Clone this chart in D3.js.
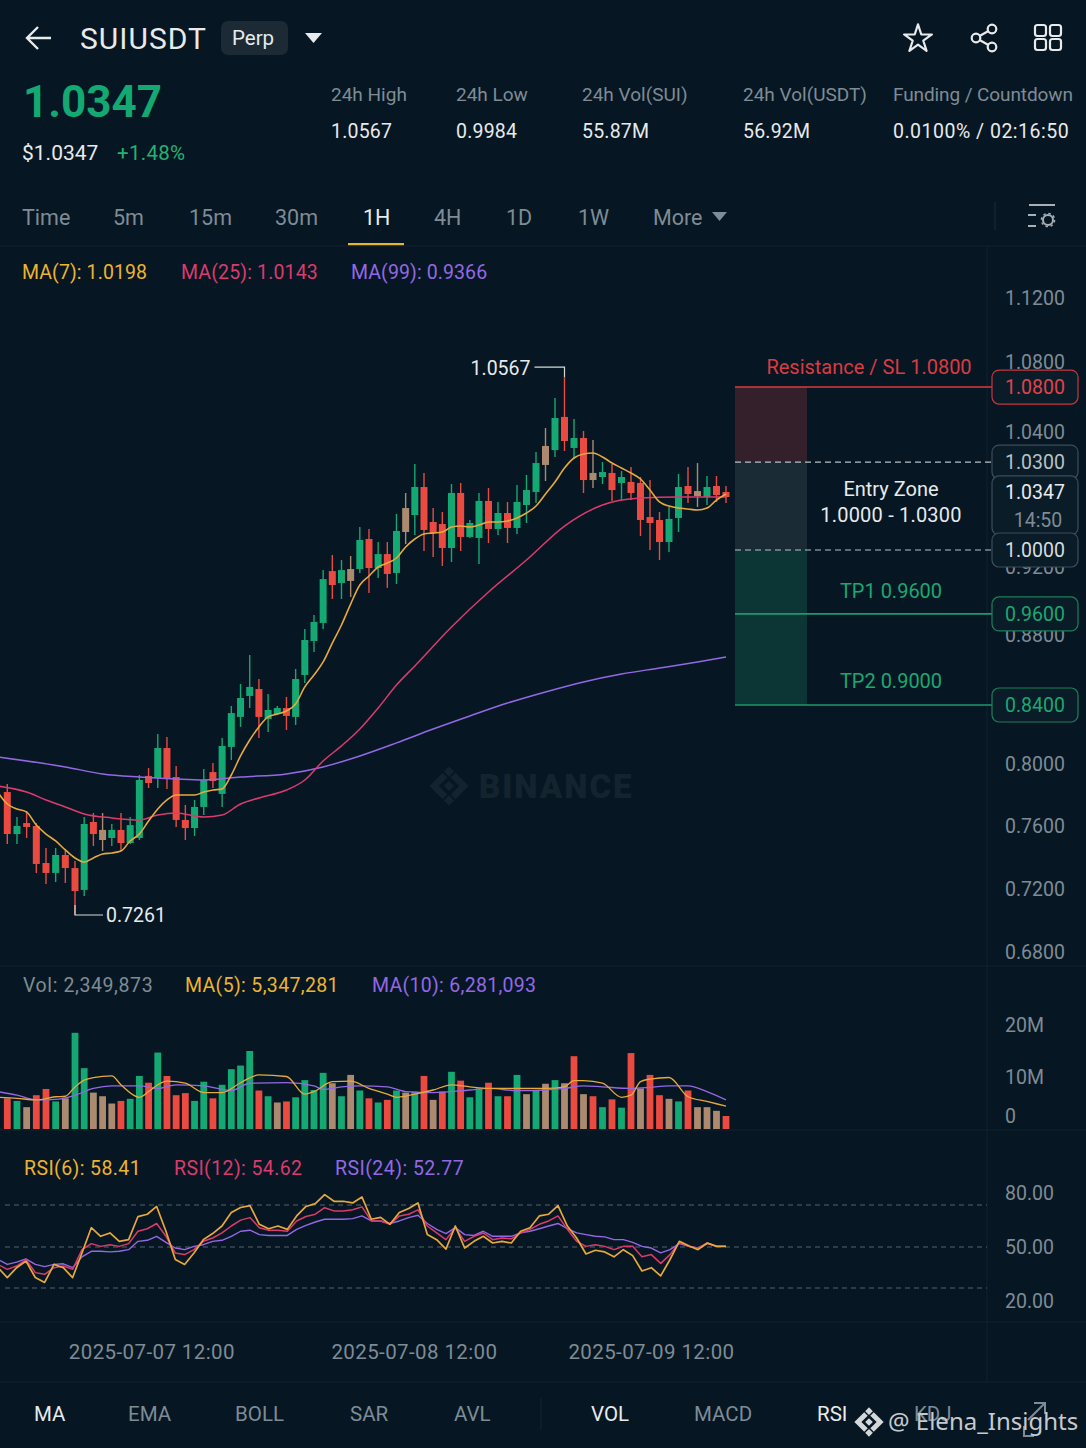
<!DOCTYPE html>
<html>
<head>
<meta charset="utf-8">
<title>SUIUSDT Perp</title>
<script src="https://cdn.jsdelivr.net/npm/d3@7/dist/d3.min.js"></script>
<style>
  html, body { margin: 0; padding: 0; background: #061723; }
  svg { display: block; font-family: Roboto, sans-serif; }
</style>
</head>
<body>
<div id="chart"></div>
<script>
// candles, one per hour bar
const opens = [
  .7819,.7549,.7619,.7600,.7365,.7302,.7416,.7333,.7194,.7626,
  .7575,.7524,.7575,.7492,.7524,.7923,.7910,.8099,.7916,.7639,
  .7587,.7723,.7948,.7807,.8106,.8292,.8422,.8465,.8279,.8310,
  .8347,.8292,.8552,.8763,.8871,.9176,.9106,.9188,.9188,.9449,
  .9194,.9315,.9165,.9724,.9662,.9911,.9600,.9582,.9369,.9858,
  .9467,.9458,.9787,.9538,.9680,.9547,.9751,.9867,1.0276,1.0240,
  1.0486,1.0258,1.0347,1.0036,1.0000,1.0036,.9947,.9956,.9947,.9644,
  .9618,.9422,.9636,.9920,.9875,.9822,.9920,.9867];
const highs = [
  .7871,.7658,.7697,.7619,.7460,.7460,.7448,.7378,.7658,.7684,
  .7684,.7613,.7684,.7658,.7929,.7974,.8186,.8168,.7987,.7736,
  .7768,.7968,.8006,.8161,.8360,.8496,.8676,.8527,.8434,.8360,
  .8416,.8589,.8835,.8918,.9182,.9307,.9262,.9298,.9555,.9538,
  .9422,.9422,.9671,.9858,1.0116,1.0036,.9724,.9689,.9938,.9947,
  .9618,.9858,.9902,.9778,.9778,.9929,1.0018,1.0222,1.0423,1.0594,
  1.0714,1.0475,1.0406,1.0329,1.0133,1.0116,1.0053,1.0089,1.0000,.9973,
  .9689,.9733,1.0027,1.0089,1.0124,1.0009,1.0009,.9920];
const lows = [
  .7486,.7486,.7524,.7302,.7232,.7244,.7238,.7035,.7156,.7473,
  .7441,.7473,.7441,.7486,.7511,.7845,.7845,.7839,.7594,.7511,
  .7537,.7671,.7845,.7723,.8025,.8230,.8347,.8161,.8199,.8304,
  .8211,.8242,.8502,.8695,.8835,.9012,.9012,.9024,.9165,.9047,
  .9135,.9077,.9100,.9404,.9484,.9342,.9289,.9209,.9244,.9342,
  .9458,.9227,.9413,.9484,.9413,.9493,.9591,.9769,.9964,1.0178,
  1.0231,1.0160,.9858,.9902,.9938,.9787,.9795,.9795,.9475,.9351,
  .9262,.9333,.9511,.9769,.9733,.9751,.9778,.9769];
const closes = [
  .7549,.7600,.7594,.7359,.7302,.7416,.7333,.7187,.7613,.7549,
  .7511,.7575,.7492,.7606,.7897,.7877,.8099,.7910,.7639,.7587,
  .7723,.7897,.7890,.8112,.8316,.8409,.8478,.8292,.8335,.8347,
  .8298,.8527,.8769,.8877,.9129,.9094,.9182,.9118,.9440,.9194,
  .9315,.9159,.9520,.9511,.9911,.9529,.9502,.9369,.9858,.9467,
  .9591,.9787,.9538,.9680,.9547,.9778,.9884,1.0124,1.0107,1.0480,
  1.0320,1.0347,.9973,.9973,1.0044,.9884,1.0000,.9858,.9618,.9591,
  .9422,.9627,.9911,.9849,.9831,.9911,.9840,.9822];
// candles that show a washed out tan body
const mixedCandles = [10, 37, 43, 58, 63, 74];

// MA(7) has one reading per candle and starts one bar left of the first candle
const ma7 = [
  .7819,.7742,.7710,.7690,.7606,.7549,.7505,.7448,.7397,.7371,.7397,
  .7422,.7429,.7441,.7505,.7549,.7632,.7710,.7768,.7800,.7800,
  .7800,.7819,.7832,.7839,.7929,.8050,.8149,.8230,.8292,.8310,
  .8329,.8372,.8478,.8552,.8633,.8750,.8859,.8982,.9094,.9147,
  .9200,.9235,.9280,.9378,.9449,.9493,.9502,.9511,.9555,.9564,
  .9555,.9573,.9600,.9600,.9609,.9636,.9680,.9742,.9849,.9956,
  1.0080,1.0169,1.0204,1.0213,1.0178,1.0124,1.0080,1.0036,.9982,.9884,
  .9778,.9742,.9724,.9715,.9707,.9724,.9795,.9849];
const ma25Bars = [-1,2,4,6,8,11,14,16,18,21,23,25,27,30,32,34,36,38,40,42,44,48,52,56,60,64,68,72,77];
const ma25 = [.7858,.7819,.7768,.7723,.7678,.7652,.7639,.7671,.7684,.7658,.7671,.7742,.7781,.7832,.7897,
  .8019,.8112,.8217,.8347,.8490,.8608,.8847,.9053,.9262,.9564,.9751,.9813,.9822,.9822];
const ma99Bars = [-1,6,10,14,18,21,25,30,34,38,42,46,50,54,58,62,66,70,74,77];
const ma99 = [.8044,.7981,.7936,.7916,.7903,.7897,.7916,.7936,.7981,.8050,.8131,.8217,.8298,.8378,.8447,.8509,.8558,.8595,.8633,.8664];

// axis labels of the price pane, the picture does not space them evenly
const priceTicks = [1.12, 1.08, 1.04, 0.92, 0.88, 0.80, 0.76, 0.72, 0.68];
const priceRows = [298, 362, 432, 567, 635, 764, 826, 889, 952];

// the level boxes do not line up with the axis, so levelAt is where each one sits on it
const levelLabels = ["1.0800", "1.0300", "1.0000", "0.9600", "0.8400"];
const levelAt = [1.0657, 1.0133, .9351, .8924, .8366];
const lastAt = .9867;

// volume in millions
const volumes = [
  5.9,5.4,4.2,6.5,7.7,5.3,5.9,18.5,11.7,7.0,
  6.3,4.9,5.4,5.8,10.2,8.9,14.7,10.2,6.5,6.9,
  5.4,9.1,5.9,8.5,11.5,12.2,15.0,7.4,6.3,5.1,
  5.3,6.1,9.4,7.5,10.8,8.8,6.3,10.4,7.4,5.9,
  5.1,5.6,7.4,7.0,7.2,10.2,5.6,7.2,11.0,9.3,
  6.1,7.8,8.9,6.3,6.3,10.4,6.7,7.5,8.7,9.4,
  8.8,14.0,6.7,6.3,4.2,5.7,4.1,14.6,7.8,10.4,
  6.5,5.8,5.3,7.4,4.2,4.2,3.5,2.5];
// u = buy bar, d = sell bar, m = the tan washed out ones
const volumeSide = [
  "dumddumuum", "mmduududdd", "uuduuuudum", "duuuumumud",
  "udumudmdud", "uududumumu", "mdmdududmd", "dmudmmmd"].join("");
const volMa5Bars = [-1,1,3,5,6,7,8,9,11,12,14,15,16,17,19,21,23,25,27,30,32,33,35,37,39,41,42,44,46,48,50,52,55,58,60,61,62,64,66,67,68,69,71,73,75,77];
const volMa5 = [6.1,5.9,5.6,6.2,6.3,8.1,9.4,9.9,10.2,8.5,6.1,7.2,8.5,9.2,8.8,7.0,7.0,8.9,10.4,10.1,6.7,7.2,9.1,9.2,7.8,6.7,6.1,6.7,7.5,8.5,8.1,7.8,7.8,7.8,8.1,9.3,9.3,8.8,6.1,6.5,9.1,9.6,9.9,6.2,5.3,4.4];
const volMa10Bars = [-1,1,3,5,7,9,11,14,16,18,21,24,26,30,33,34,36,38,41,43,46,50,52,55,58,60,62,64,67,69,71,73,75,77];
const volMa10 = [7.2,6.5,5.6,5.7,6.5,7.8,8.3,8.3,7.8,8.5,8.3,7.4,8.8,8.9,8.3,7.6,8.1,8.3,8.1,7.2,7.0,7.5,7.8,7.4,7.5,7.8,8.3,8.1,7.8,8.0,8.3,8.3,7.2,5.6];
const volumeTicks = [0, 10, 20];

// RSI, one reading per candle, starting one bar left like MA(7)
const rsi6 = [
  39.9,35.1,39.9,43.1,35.1,32.7,41.5,39.9,35.1,47.1,59.2,
  55.1,56.7,52.7,53.5,64.5,65.6,69.3,57.5,43.9,41.5,
  47.1,53.5,56.4,60.0,66.4,68.8,69.7,60.8,58.7,60.0,
  58.4,64.8,69.3,71.1,78.6,73.1,73.1,71.7,76.7,63.2,
  64.1,60.8,66.4,68.3,71.7,55.9,53.5,49.0,60.0,49.5,
  52.7,55.1,51.9,52.7,51.9,57.5,59.2,64.8,65.6,69.7,
  60.0,54.3,46.6,48.4,47.6,45.2,48.7,45.8,38.3,39.9,
  35.9,43.9,52.7,50.6,48.7,51.9,50.3,50.3];
const rsi12 = [
  41.5,39.1,40.7,43.9,37.5,36.7,39.9,40.7,39.1,48.7,51.6,
  50.3,51.1,50.3,51.6,57.5,58.7,61.2,55.1,47.1,46.3,
  48.7,52.7,54.3,56.7,60.0,62.8,64.0,59.2,58.0,58.0,
  57.5,62.4,64.5,65.6,68.7,67.2,67.2,67.7,69.1,62.4,
  62.4,60.8,64.8,65.6,67.7,60.0,56.7,53.5,59.2,52.7,
  55.1,56.7,53.5,54.3,53.9,56.7,58.4,60.8,62.4,64.8,
  58.4,52.7,50.3,51.1,50.3,48.7,50.3,50.3,45.2,46.3,
  42.0,46.3,52.2,50.3,49.5,51.9,50.3,50.3];
const rsi24 = [
  43.9,41.5,42.6,44.2,41.5,40.4,41.5,41.8,39.9,45.2,47.9,
  47.9,47.6,47.9,48.7,52.7,53.2,55.1,52.2,49.5,48.7,
  50.3,51.1,52.7,53.2,55.1,57.5,58.0,55.9,55.5,55.5,
  55.5,58.4,60.3,61.9,63.2,63.2,63.2,63.5,64.8,62.4,
  62.4,61.2,62.4,64.0,65.1,61.2,58.4,56.4,59.2,55.9,
  55.5,57.5,55.1,55.1,55.1,56.7,57.5,58.7,60.0,61.2,
  58.7,56.7,55.9,55.1,54.8,53.5,53.5,52.2,50.3,49.5,
  47.1,48.7,51.6,50.3,49.5,51.6,50.3,50.3];
const rsiGuides = [70, 50, 30];
const rsiTicks = [80, 50, 20];

const timeLabels = ["2025-07-07 12:00", "2025-07-08 12:00", "2025-07-09 12:00"];
const timeBars = [15.3, 43.9, 69.1];

const statNames = ["24h High", "24h Low", "24h Vol(SUI)", "24h Vol(USDT)", "Funding / Countdown"];
const statValues = ["1.0567", "0.9984", "55.87M", "56.92M", "0.0100% / 02:16:50"];
const intervals = ["Time", "5m", "15m", "30m", "1H", "4H", "1D", "1W", "More"];
const indicators = ["MA", "EMA", "BOLL", "SAR", "AVL", "VOL", "MACD", "RSI", "KDJ"];

const width = 1086, height = 1448;
const bg = "#061723", up = "#14a873", down = "#ea4a3f", tan = "#ab8a6f";
const gray = "#7f8b95", white = "#e8eaec", yellow = "#eeb32f", pink = "#dc3a6c", purple = "#9468e4";
const line = "#0f222e";

const svg = d3.select("#chart").append("svg")
  .attr("width", width).attr("height", height)
  .attr("viewBox", `0 0 ${width} ${height}`);
svg.append("rect").attr("width", width).attr("height", height).attr("fill", bg);

function label(x, y, str, color, size, anchor, weight, spacing) {
  return svg.append("text")
    .attr("x", x).attr("y", y)
    .attr("dy", "0.35em")
    .attr("fill", color)
    .attr("font-size", size || 19.5)
    .attr("font-weight", weight || 400)
    .attr("text-anchor", anchor || "start")
    .attr("letter-spacing", spacing || null)
    .text(str);
}

function binanceMark(cx, cy, s, color) {
  const g = svg.append("g").attr("transform", `translate(${cx},${cy}) rotate(45)`).attr("fill", color);
  [[0, 0, .3], [-.85, -.85, .3], [.85, .85, .3]].forEach(d => {
    g.append("rect")
      .attr("x", (d[0] - d[2]) * s).attr("y", (d[1] - d[2]) * s)
      .attr("width", d[2] * 2 * s).attr("height", d[2] * 2 * s);
  });
  // the two bent arms of the logo
  g.append("path").attr("d", `M${-.4*s},${-1.15*s}H${1.15*s}V${.4*s}H${.6*s}V${-.6*s}H${-.4*s}Z`);
  g.append("path").attr("d", `M${.4*s},${1.15*s}H${-1.15*s}V${-.4*s}H${-.6*s}V${.6*s}H${.4*s}Z`);
}

// ---- header
svg.append("path").attr("d", "M51,38H27M38,27L27,38L38,49")
  .attr("fill", "none").attr("stroke", white).attr("stroke-width", 2.4);
label(80, 38, "SUIUSDT", white, 30, "start", 400, 1);
svg.append("rect").attr("x", 221).attr("y", 21).attr("width", 67).attr("height", 34).attr("rx", 7).attr("fill", "#1c2a35");
label(232, 38, "Perp", white, 20.5);
svg.append("path").attr("d", "M305,33H322L313.5,43Z").attr("fill", white);

svg.append("path").attr("transform", "translate(918,39)")
  .attr("d", d3.symbol(d3.symbolStar, 240)())
  .attr("fill", "none").attr("stroke", white).attr("stroke-width", 2.2).attr("stroke-linejoin", "round");
svg.append("path").attr("d", "M976,38L992,29M976,38L992,47").attr("stroke", white).attr("stroke-width", 2.2);
[[976, 38], [992, 29], [992, 47]].forEach(d => {
  svg.append("circle").attr("cx", d[0]).attr("cy", d[1]).attr("r", 4.3)
    .attr("fill", bg).attr("stroke", white).attr("stroke-width", 2.2);
});
[[1035, 25], [1050, 25], [1035, 39], [1050, 39]].forEach(d => {
  svg.append("rect").attr("x", d[0]).attr("y", d[1]).attr("width", 11).attr("height", 11).attr("rx", 2.5)
    .attr("fill", "none").attr("stroke", white).attr("stroke-width", 2.2);
});

label(23, 102, "1.0347", up, 44, "start", 700);
label(22, 153, "$1.0347", white, 21);
label(117, 153, "+1.48%", "#25b271", 20.5, "start", 400, 0.3);

const statX = [331, 456, 582, 743, 893];
statNames.forEach((s, i) => {
  label(statX[i], 94, s, gray, 19, "start", 400, i === 4 ? -0.1 : null);
  label(statX[i], 131, statValues[i], white, 19.5, "start", 400, i === 4 ? 0.5 : 0.2);
});

// ---- interval tabs
const intervalX = [22, 113, 189, 275, 363, 434, 506, 578, 653];
intervals.forEach((s, i) => label(intervalX[i], 217, s, s === "1H" ? white : gray, 21.5));
svg.append("path").attr("d", "M712,212H727L719.5,221Z").attr("fill", gray);
svg.append("rect").attr("x", 348).attr("y", 243).attr("width", 56).attr("height", 2.4).attr("fill", "#e9b52f");
svg.append("path").attr("d", "M995,202V230").attr("stroke", "#15262f").attr("stroke-width", 1.5);
svg.append("path").attr("d", "M1029,205H1055M1028,215H1036M1028,226H1036").attr("stroke", "#a8b0b6").attr("stroke-width", 2);
svg.append("circle").attr("cx", 1048).attr("cy", 220).attr("r", 5)
  .attr("fill", "none").attr("stroke", "#a8b0b6").attr("stroke-width", 2);
svg.append("circle").attr("cx", 1048).attr("cy", 220).attr("r", 6.6)
  .attr("fill", "none").attr("stroke", "#a8b0b6").attr("stroke-width", 1.4).attr("stroke-dasharray", "2.5 2.7");

// ---- panel rules
[246, 966, 1130, 1322, 1382].forEach(y => {
  svg.append("path").attr("d", `M0,${y}H${width}`).attr("stroke", line).attr("stroke-width", 1);
});
svg.append("path").attr("d", "M987,246V1382").attr("stroke", line).attr("stroke-width", 1);

// ---- scales
// two thin candles squeeze the bar spacing in the picture, hence the extra stops in x
const x = d3.scaleLinear().domain([0, 7, 29, 51, 77]).range([7.3, 75, 277.3, 479, 726]);
const xEven = d3.scaleLinear().domain([0, 77]).range([7.3, 726]);
const y = d3.scaleLinear().domain(priceTicks).range(priceRows);
const yVol = d3.scaleLinear().domain([0, 20]).range([1129, 1025]);
const yRsi = d3.scaleLinear().domain([80, 70, 50, 30, 20]).range([1193, 1205, 1247, 1288, 1301]);

const bars = d3.range(opens.length);
const candleW = 7;

// ---- watermark, it sits under the candles
binanceMark(449, 786, 12, "#14242f");
label(479, 786, "BINANCE", "#14242f", 33, "start", 900, 2);

// ---- trade levels, zones first
const zones = [[0, 1, "#34202a"], [1, 2, "#1a2b36"], [2, 4, "#0c3535"]];
svg.selectAll("rect.zone").data(zones).enter().append("rect")
  .attr("class", "zone")
  .attr("x", 735).attr("width", 72)
  .attr("y", d => y(levelAt[d[0]]))
  .attr("height", d => y(levelAt[d[1]]) - y(levelAt[d[0]]))
  .attr("fill", d => d[2]);

const levelColor = [ "#dc3a40", "#b9c1c7", "#b9c1c7", "#1c9a68", "#1c9a68" ];
levelAt.forEach((v, i) => {
  const dashed = i === 1 || i === 2;
  svg.append("line")
    .attr("x1", 735).attr("x2", 992)
    .attr("y1", y(v)).attr("y2", y(v))
    .attr("stroke", levelColor[i])
    .attr("stroke-width", dashed ? 1.2 : 1.6)
    .attr("stroke-dasharray", dashed ? "6 4" : null);
});

label(869, 367, "Resistance / SL 1.0800", "#dc3a40", 20, "middle");
label(891, 489, "Entry Zone", white, 20, "middle");
label(891, 515, "1.0000 - 1.0300", white, 20, "middle", 400, 0.2);
label(891, 591, "TP1 0.9600", "#1ca870", 20, "middle");
label(891, 681, "TP2 0.9000", "#1ca870", 20, "middle");

// ---- price axis
svg.append("g").attr("transform", "translate(1005,0)")
  .call(d3.axisRight(y).tickValues(priceTicks).tickFormat(d => d.toFixed(4)).tickSize(0).tickPadding(0))
  .call(g => g.select(".domain").remove())
  .call(g => g.selectAll("text").attr("fill", gray).attr("font-size", 19.5).attr("font-family", "Roboto, sans-serif"));

// ---- level boxes on the axis
function priceBox(top, h, stroke) {
  svg.append("rect").attr("x", 992).attr("y", top).attr("width", 86).attr("height", h).attr("rx", 7)
    .attr("fill", "#0a1c28").attr("stroke", stroke).attr("stroke-width", 1.2);
}
const boxStroke = ["#c8353d", "#3d4c58", "#3d4c58", "#1c7f58", "#1c7f58"];
const boxText = ["#e0434a", "#b9c1c7", "#d8dcdf", "#1ca870", "#1ca870"];
[0, 3, 4, 1].forEach(i => {
  priceBox(y(levelAt[i]) - 17, 34, boxStroke[i]);
  label(1035, y(levelAt[i]), levelLabels[i], boxText[i], 19.5, "middle");
});
priceBox(y(lastAt) - 16, 59, "#3d4c58");
label(1035, y(lastAt), "1.0347", white, 19.5, "middle");
label(1038, y(lastAt) + 28, "14:50", gray, 19.5, "middle");
priceBox(y(levelAt[2]) - 17, 34, "#3d4c58");
label(1035, y(levelAt[2]), levelLabels[2], boxText[2], 19.5, "middle");

// ---- candles
const candleColor = i => mixedCandles.includes(i) ? tan : closes[i] >= opens[i] ? up : down;

svg.selectAll("line.wick").data(bars).enter().append("line")
  .attr("class", "wick")
  .attr("x1", i => x(i)).attr("x2", i => x(i))
  .attr("y1", i => y(highs[i])).attr("y2", i => y(lows[i]))
  .attr("stroke", candleColor).attr("stroke-width", 1.4);

svg.selectAll("rect.body").data(bars).enter().append("rect")
  .attr("class", "body")
  .attr("x", i => x(i) - candleW / 2)
  .attr("width", candleW)
  .attr("y", i => y(Math.max(opens[i], closes[i])))
  .attr("height", i => Math.max(2, Math.abs(y(opens[i]) - y(closes[i]))))
  .attr("fill", candleColor);

// ---- moving averages
const smooth = d3.curveMonotoneX;
function drawSeries(xs, vs, scale, color, w, curve, xScale) {
  const sx = xScale || x;
  svg.append("path")
    .datum(vs)
    .attr("fill", "none").attr("stroke", color).attr("stroke-width", w)
    .attr("stroke-linejoin", "round")
    .attr("d", d3.line().x((d, i) => sx(xs[i])).y(d => scale(d)).curve(curve)(vs));
}
const fromBar = vs => vs.map((_, i) => i - 1);
drawSeries(ma99Bars, ma99, y, purple, 1.5, smooth);
drawSeries(ma25Bars, ma25, y, pink, 1.5, smooth);
drawSeries(fromBar(ma7), ma7, y, "#e8a93c", 1.6, smooth);

// ---- high and low callouts
const topBar = d3.maxIndex(highs), lowBar = d3.minIndex(lows);
const topY = y(highs[topBar]), lowY = y(lows[lowBar]);
svg.append("path")
  .attr("d", `M${x(topBar)},${topY}V${topY - 10}H${x(topBar) - 30}`)
  .attr("fill", "none").attr("stroke", "#d5d9dc").attr("stroke-width", 1.2);
label(x(topBar) - 34, topY - 9, "1.0567", white, 19.5, "end");
svg.append("path")
  .attr("d", `M${x(lowBar)},${lowY - 10}V${lowY}H${x(lowBar) + 28}`)
  .attr("fill", "none").attr("stroke", "#d5d9dc").attr("stroke-width", 1.2);
label(x(lowBar) + 31, lowY, "0.7261", white, 19.5);

label(22, 272, "MA(7): 1.0198", yellow, 19.5, "start", 400, 0.1);
label(181, 272, "MA(25): 1.0143", pink, 19.5, "start", 400, 0.15);
label(351, 272, "MA(99): 0.9366", purple, 19.5, "start", 400, 0.1);

// ---- volume pane
label(23, 985, "Vol: 2,349,873", gray, 19.5, "start", 400, 0.6);
label(185, 985, "MA(5): 5,347,281", yellow, 19.5, "start", 400, 0.35);
label(372, 985, "MA(10): 6,281,093", purple, 19.5, "start", 400, 0.3);

const sideColor = { u: up, d: down, m: tan };
svg.selectAll("rect.vol").data(volumes).enter().append("rect")
  .attr("class", "vol")
  .attr("x", (d, i) => x(i) - 3.4)
  .attr("width", 6.8)
  .attr("y", d => yVol(d))
  .attr("height", d => yVol(0) - yVol(d))
  .attr("fill", (d, i) => sideColor[volumeSide[i]]);

drawSeries(volMa10Bars, volMa10, yVol, purple, 1.3, smooth);
drawSeries(volMa5Bars, volMa5, yVol, "#e8a93c", 1.3, smooth);

svg.append("g").attr("transform", "translate(1005,0)")
  .call(d3.axisRight(yVol).tickValues(volumeTicks).tickFormat(d => d ? d + "M" : "0").tickSize(0).tickPadding(0))
  .call(g => g.select(".domain").remove())
  .call(g => g.selectAll("text").attr("fill", gray).attr("font-size", 19.5).attr("font-family", "Roboto, sans-serif"))
  // the zero label sits above the base line so it clears the pane rule
  .call(g => g.selectAll(".tick text").filter(d => d === 0).attr("dy", "-0.35em"));

// ---- RSI pane
label(24, 1168, "RSI(6): 58.41", yellow, 19.5, "start", 400, 0.4);
label(174, 1168, "RSI(12): 54.62", pink, 19.5, "start", 400, 0.4);
label(335, 1168, "RSI(24): 52.77", purple, 19.5, "start", 400, 0.45);

svg.selectAll("line.guide").data(rsiGuides).enter().append("line")
  .attr("class", "guide")
  .attr("x1", 5).attr("x2", 987)
  .attr("y1", d => yRsi(d)).attr("y2", d => yRsi(d))
  .attr("stroke", "#55636c").attr("stroke-width", 1.1).attr("stroke-dasharray", "5 4");

drawSeries(fromBar(rsi24), rsi24, yRsi, purple, 1.4, d3.curveLinear, xEven);
drawSeries(fromBar(rsi12), rsi12, yRsi, pink, 1.5, d3.curveLinear, xEven);
drawSeries(fromBar(rsi6), rsi6, yRsi, "#e8a93c", 1.7, d3.curveLinear, xEven);

svg.append("g").attr("transform", "translate(1005,0)")
  .call(d3.axisRight(yRsi).tickValues(rsiTicks).tickFormat(d => d.toFixed(2)).tickSize(0).tickPadding(0))
  .call(g => g.select(".domain").remove())
  .call(g => g.selectAll("text").attr("fill", gray).attr("font-size", 19.5).attr("font-family", "Roboto, sans-serif"));

// ---- time axis
svg.append("g").attr("transform", "translate(0,1344)")
  .call(d3.axisBottom(x).tickValues(timeBars).tickFormat((d, i) => timeLabels[i]).tickSize(0).tickPadding(0))
  .call(g => g.select(".domain").remove())
  .call(g => g.selectAll("text").attr("fill", gray).attr("font-size", 20.5).attr("letter-spacing", 0.4).attr("font-family", "Roboto, sans-serif"));

// ---- bottom indicator tabs
const indicatorX = [34, 128, 235, 350, 454, 591, 694, 817, 914];
const activeIndicators = ["MA", "VOL", "RSI"];
indicators.forEach((s, i) => label(indicatorX[i], 1414, s, activeIndicators.includes(s) ? white : gray, 20.5));
svg.append("path").attr("d", "M541,1398V1430").attr("stroke", line).attr("stroke-width", 1.5);
svg.append("path").attr("d", "M1028,1420L1045,1403M1034,1403H1045V1414M1024,1426V1436H1034")
  .attr("fill", "none").attr("stroke", gray).attr("stroke-width", 2);

// ---- site watermark over the tabs
binanceMark(869, 1422, 9, "#d5d8db");
svg.append("text").attr("x", 888).attr("y", 1422).attr("dy", "0.35em")
  .attr("fill", "#c6cacd").attr("font-size", 24).attr("font-family", "'Noto Sans', sans-serif")
  .text("@ Elena_Insights");
</script>
</body>
</html>
